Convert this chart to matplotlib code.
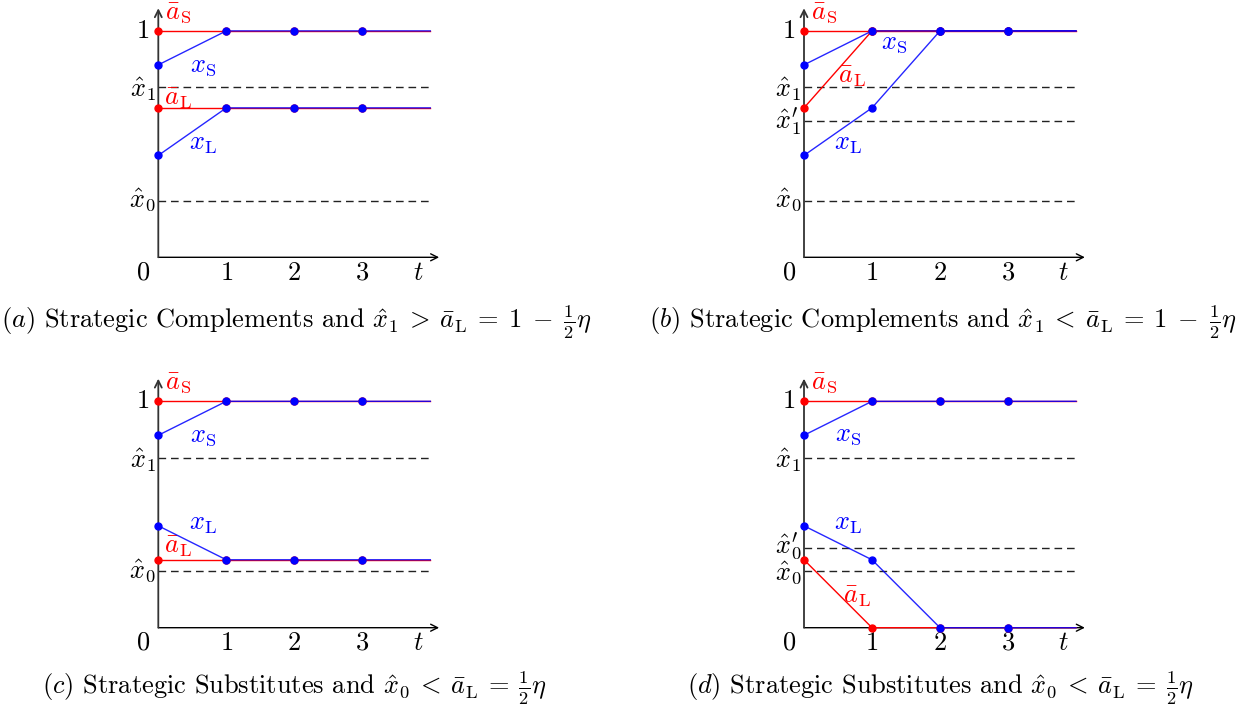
import numpy as np
import matplotlib.pyplot as plt

plt.rcParams['mathtext.fontset'] = 'cm'
plt.rcParams['font.family'] = 'serif'
plt.rcParams['font.serif'] = ['cmr10', 'DejaVu Serif']
plt.rcParams['axes.formatter.use_mathtext'] = True

# time points (t = 4 is where the lines stop)
t = [0, 1, 2, 3, 4]

# panel data: threshold and path values
a_S = {"a": [1, 1, 1, 1, 1], "b": [1, 1, 1, 1, 1],
       "c": [1, 1, 1, 1, 1], "d": [1, 1, 1, 1, 1]}
x_S = {"a": [0.85, 1, 1, 1, 1], "b": [0.85, 1, 1, 1, 1],
       "c": [0.85, 1, 1, 1, 1], "d": [0.85, 1, 1, 1, 1]}
a_L = {"a": [0.66, 0.66, 0.66, 0.66, 0.66], "b": [0.66, 1, 1, 1, 1],
       "c": [0.3, 0.3, 0.3, 0.3, 0.3], "d": [0.3, 0, 0, 0, 0]}
x_L = {"a": [0.45, 0.66, 0.66, 0.66, 0.66], "b": [0.45, 0.66, 1, 1, 1],
       "c": [0.45, 0.3, 0.3, 0.3, 0.3], "d": [0.45, 0.3, 0, 0, 0]}

# dashed threshold levels: (label, value, label position)
thresholds = {
    "a": [(r"$\hat{x}_1$", 0.75, 0.742), (r"$\hat{x}_0$", 0.25, 0.25)],
    "b": [(r"$\hat{x}_1$", 0.75, 0.742), (r"$\hat{x}_1'$", 0.60, 0.60), (r"$\hat{x}_0$", 0.25, 0.25)],
    "c": [(r"$\hat{x}_1$", 0.75, 0.742), (r"$\hat{x}_0$", 0.25, 0.25)],
    "d": [(r"$\hat{x}_1$", 0.75, 0.742), (r"$\hat{x}_0'$", 0.35, 0.358), (r"$\hat{x}_0$", 0.25, 0.24)],
}

# curve labels: (text, t, value, colour, ha)
labels = {
    "a": [(r"$x_{\mathrm{S}}$", 0.66, 0.845, "blue", "center"),
          (r"$\bar{a}_{\mathrm{L}}$", 0.09, 0.70, "red", "left"),
          (r"$x_{\mathrm{L}}$", 0.66, 0.50, "blue", "center")],
    "b": [(r"$x_{\mathrm{S}}$", 1.32, 0.946, "blue", "center"),
          (r"$\bar{a}_{\mathrm{L}}$", 0.71, 0.80, "red", "center"),
          (r"$x_{\mathrm{L}}$", 0.65, 0.50, "blue", "center")],
    "c": [(r"$x_{\mathrm{S}}$", 0.66, 0.845, "blue", "center"),
          (r"$x_{\mathrm{L}}$", 0.66, 0.459, "blue", "center"),
          (r"$\bar{a}_{\mathrm{L}}$", 0.09, 0.36, "red", "left")],
    "d": [(r"$x_{\mathrm{S}}$", 0.65, 0.85, "blue", "center"),
          (r"$x_{\mathrm{L}}$", 0.65, 0.459, "blue", "center"),
          (r"$\bar{a}_{\mathrm{L}}$", 0.78, 0.135, "red", "center")],
}

captions = {
    "a": r"$(a)$ Strategic Complements and $\hat{x}_1\:>\:\bar{a}_{\mathrm{L}}\:=\:1\;-\;\frac{1}{2}\eta$",
    "b": r"$(b)$ Strategic Complements and $\hat{x}_1\:<\:\bar{a}_{\mathrm{L}}\:=\:1\;-\;\frac{1}{2}\eta$",
    "c": r"$(c)$ Strategic Substitutes and $\hat{x}_0\:<\:\bar{a}_{\mathrm{L}}\:=\:\frac{1}{2}\eta$",
    "d": r"$(d)$ Strategic Substitutes and $\hat{x}_0\:<\:\bar{a}_{\mathrm{L}}\:=\:\frac{1}{2}\eta$",
}

# layout: origin of each panel in pixels, scale per unit
W, H = 1246, 717
origins = {"a": (158.3, 257.3), "b": (804, 257.3), "c": (158.3, 627.7), "d": (804, 627.7)}
caption_xy = {"a": (296, 328), "b": (943, 328), "c": (294.5, 694), "d": (940, 694)}
ux, uy = 68.0, 226.4
xlim = (-0.6, 4.3)
ylim = (-0.15, 1.13)
fs = 19

fig = plt.figure(figsize=(W / 100, H / 100), dpi=100)

for key in ["a", "b", "c", "d"]:
    ox, oy = origins[key]
    left = (ox + xlim[0] * ux) / W
    width = (xlim[1] - xlim[0]) * ux / W
    bottom = 1 - (oy - ylim[0] * uy) / H
    height = (ylim[1] - ylim[0]) * uy / H
    ax = fig.add_axes([left, bottom, width, height])
    ax.set_xlim(*xlim)
    ax.set_ylim(*ylim)
    ax.axis("off")

    # axes with arrows
    ax.annotate("", xy=(4.13, 0), xytext=(0, 0),
                arrowprops=dict(arrowstyle="->,head_length=0.5,head_width=0.25", color="black", lw=1.0,
                                shrinkA=0, shrinkB=0))
    ax.annotate("", xy=(0, 1.1), xytext=(0, 0),
                arrowprops=dict(arrowstyle="->,head_length=0.5,head_width=0.25", color="#333333", lw=1.3,
                                shrinkA=0, shrinkB=0))

    # dashed thresholds
    for txt, v, lv in thresholds[key]:
        ax.plot([0, 4], [v, v], color="#222222", lw=1.0, dashes=(5.5, 3.5))
        ax.text(-0.04, lv, txt, fontsize=fs, ha="right", va="center")

    # paths
    ax.plot(t, a_S[key], color="red", lw=1.0, zorder=3)
    ax.plot(t, a_L[key], color="red", lw=1.0, zorder=3)
    ax.plot(t, x_S[key], color="blue", lw=1.0, alpha=0.85, zorder=4)
    ax.plot(t, x_L[key], color="blue", lw=1.0, alpha=0.85, zorder=4)
    ax.plot(t[:4], a_S[key][:4], "o", color="red", ms=5, zorder=5)
    ax.plot(t[:4], a_L[key][:4], "o", color="red", ms=5, zorder=5)
    ax.plot(t[:4], x_S[key][:4], "o", color="blue", ms=5, zorder=6)
    ax.plot(t[:4], x_L[key][:4], "o", color="blue", ms=5, zorder=6)

    # axis labels
    ax.text(0.10, 1.08, r"$\bar{a}_{\mathrm{S}}$", color="red", fontsize=fs, ha="left", va="center")
    ax.text(-0.13, 1.0, r"$1$", fontsize=fs, ha="right", va="center")
    ax.text(-0.22, -0.068, r"$0$", fontsize=fs, ha="center", va="center")
    for tick in [1, 2, 3]:
        ax.text(tick, -0.068, r"$%d$" % tick, fontsize=fs, ha="center", va="center")
    ax.text(3.82, -0.068, r"$t$", fontsize=fs, ha="center", va="center")

    for txt, tx, v, col, ha in labels[key]:
        ax.text(tx, v, txt, color=col, fontsize=fs, ha=ha, va="center")

    cx, cy = caption_xy[key]
    fig.text(cx / W, 1 - cy / H, captions[key], fontsize=fs, ha="center", va="baseline")

fig.savefig("out.png", dpi=100)
